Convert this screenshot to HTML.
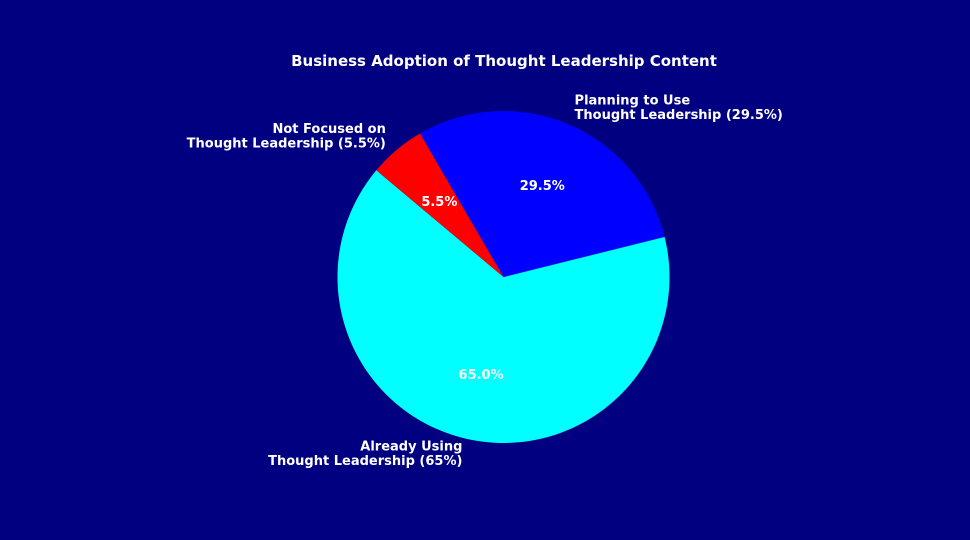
<!DOCTYPE html>
<html><head><meta charset="utf-8"><style>
html,body{margin:0;padding:0;background:#000080;}
svg{display:block;font-family:"DejaVu Sans","Liberation Sans",sans-serif;font-weight:bold;}
</style></head><body>
<svg id="chart" width="970" height="540" viewBox="0 0 970 540">
<rect width="970" height="540" fill="#000080"/>
<text x="504" y="66" text-anchor="middle" fill="#fff" font-size="15">Business Adoption of Thought Leadership Content</text>
<g id="slices"></g>
<g id="labels"></g>
</svg>
<script>
const categories = ["Already Using", "Planning to Use", "Not Focused on"];
const labelSecond = ["Thought Leadership (65%)", "Thought Leadership (29.5%)", "Thought Leadership (5.5%)"];
const values = [65.0, 29.5, 5.5];
const pctLabels = ["65.0%", "29.5%", "5.5%"];
const colors = ["#00FFFF", "#0000FF", "#FF0000"];
const cx = 503.5, cy = 277, r = 166, startAngle = 140;
const NS = "http://www.w3.org/2000/svg";
const total = values.reduce((a, b) => a + b, 0);
const gS = document.getElementById("slices"), gL = document.getElementById("labels");
function pt(deg, rad) { const a = deg * Math.PI / 180; return [cx + rad * Math.cos(a), cy - rad * Math.sin(a)]; }
let ang = startAngle;
values.forEach((v, i) => {
  const sweep = v / total * 360, a0 = ang, a1 = ang + sweep;
  const p0 = pt(a0, r), p1 = pt(a1, r);
  const path = document.createElementNS(NS, "path");
  path.setAttribute("d", `M${cx},${cy} L${p0[0]},${p0[1]} A${r},${r} 0 ${sweep > 180 ? 1 : 0} 0 ${p1[0]},${p1[1]} Z`);
  path.setAttribute("fill", colors[i]);
  
  
  gS.appendChild(path);
  const mid = (a0 + a1) / 2;
  const pp = pt(mid, r * 0.6);
  const t = document.createElementNS(NS, "text");
  t.setAttribute("x", pp[0]); t.setAttribute("y", pp[1] + 5);
  t.setAttribute("text-anchor", "middle"); t.setAttribute("fill", "#fff"); t.setAttribute("font-size", "13");
  t.textContent = pctLabels[i];
  
  
  gL.appendChild(t);
  const lp = pt(mid, r * 1.1);
  const anchor = Math.cos(mid * Math.PI / 180) >= 0 ? "start" : "end";
  const lt = document.createElementNS(NS, "text");
  lt.setAttribute("text-anchor", anchor); lt.setAttribute("fill", "#fff"); lt.setAttribute("font-size", "13");
  
  
  [categories[i], labelSecond[i]].forEach((s, k) => {
    const ts = document.createElementNS(NS, "tspan");
    ts.setAttribute("x", lp[0]); ts.setAttribute("y", lp[1] - 2 + (k - 0.5) * 14.5 + 5);
    ts.textContent = s;
    lt.appendChild(ts);
  });
  gL.appendChild(lt);
  ang = a1;
});
</script>
</body></html>
